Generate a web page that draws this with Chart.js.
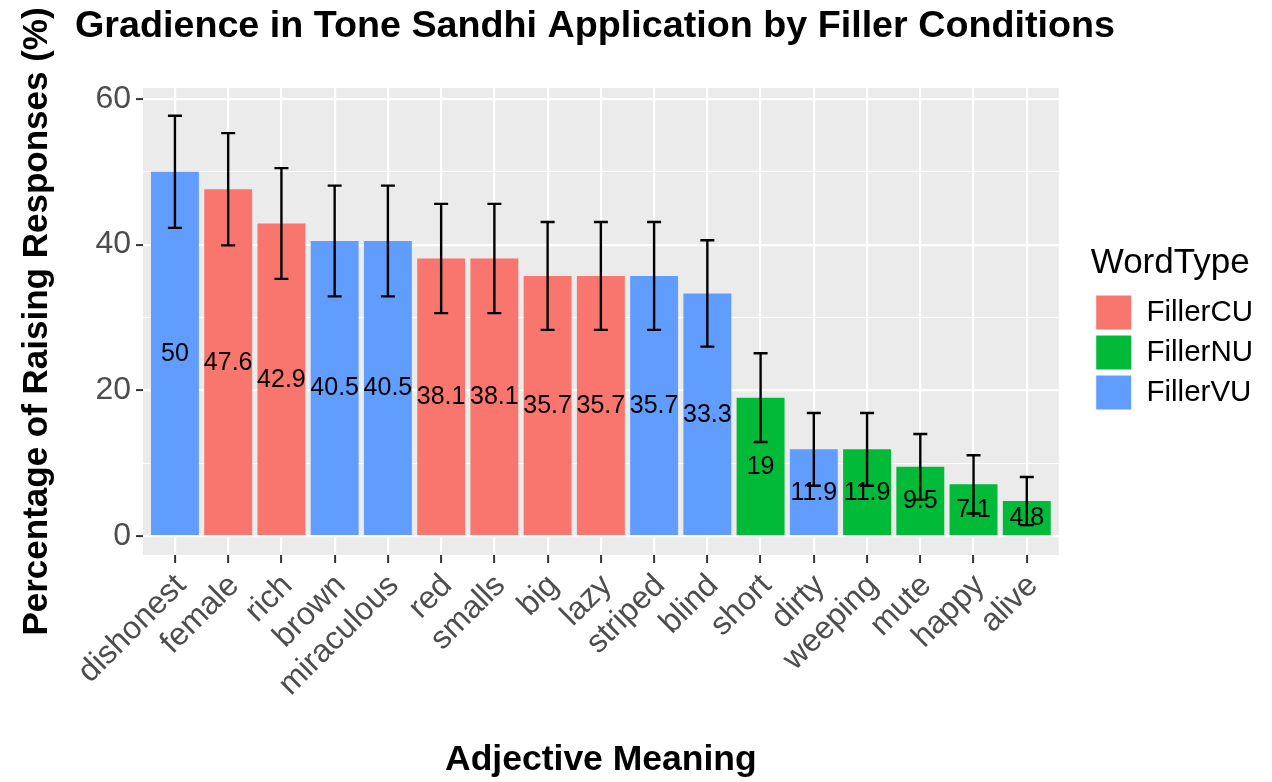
<!DOCTYPE html>
<html>
<head>
<meta charset="utf-8">
<script src="https://cdn.jsdelivr.net/npm/chart.js@4.4.1/dist/chart.umd.min.js"></script>
<style>
  body { margin: 0; background: #fff; }
  #wrap { width: 1272px; height: 782px; }
</style>
</head>
<body>
<div id="wrap"><canvas id="barChart"></canvas></div>
<script>
'use strict';

// data
let words = ['dishonest', 'female', 'rich', 'brown', 'miraculous', 'red', 'smalls', 'big', 'lazy',
             'striped', 'blind', 'short', 'dirty', 'weeping', 'mute', 'happy', 'alive']
let wordType = ['FillerVU', 'FillerCU', 'FillerCU', 'FillerVU', 'FillerVU', 'FillerCU', 'FillerCU', 'FillerCU', 'FillerCU',
                'FillerVU', 'FillerVU', 'FillerNU', 'FillerVU', 'FillerNU', 'FillerNU', 'FillerNU', 'FillerNU']
let pct = [50, 47.6, 42.9, 40.5, 40.5, 38.1, 38.1, 35.7, 35.7, 35.7, 33.3, 19, 11.9, 11.9, 9.5, 7.1, 4.8]
let errLow = [42.3, 39.9, 35.3, 32.9, 32.9, 30.6, 30.6, 28.3, 28.3, 28.3, 26.0, 12.9, 6.9, 6.9, 5.0, 3.1, 1.5]
let errHigh = [57.7, 55.3, 50.5, 48.1, 48.1, 45.6, 45.6, 43.1, 43.1, 43.1, 40.6, 25.1, 16.9, 16.9, 14.0, 11.1, 8.1]
let typeNames = ['FillerCU', 'FillerNU', 'FillerVU']
let typeColors = ['#F8766D', '#00BA38', '#619CFF']
let yTicks = [0, 10, 20, 30, 40, 50, 60]

let barColors = wordType.map(t => typeColors[typeNames.indexOf(t)])
let barPoints = pct.map((v, i) => ({ x: i, y: v }))

const FONT = "'Liberation Sans', Arial, Helvetica, sans-serif"

// grey panel, error bars, value labels and the plot title
let ggExtras = {
    id: 'ggExtras',
    beforeDraw(chart) {
        let a = chart.chartArea
        let ctx = chart.ctx
        ctx.save()
        ctx.fillStyle = '#EBEBEB'
        ctx.fillRect(a.left, a.top, a.right - a.left, a.bottom - a.top)
        ctx.restore()
    },
    afterDatasetsDraw(chart) {
        let ctx = chart.ctx
        let xs = chart.scales.x
        let ys = chart.scales.y
        ctx.save()
        // value labels in the middle of each bar
        ctx.fillStyle = '#000'
        ctx.font = '25px ' + FONT
        ctx.textAlign = 'center'
        ctx.textBaseline = 'middle'
        for (let i = 0; i < pct.length; i++) {
            ctx.fillText(String(pct[i]), xs.getPixelForValue(i), ys.getPixelForValue(pct[i] / 2))
        }
        // error bars
        ctx.strokeStyle = '#000'
        ctx.lineWidth = 2.4
        let cap = 7
        for (let i = 0; i < pct.length; i++) {
            let x = xs.getPixelForValue(i)
            let y1 = ys.getPixelForValue(errLow[i])
            let y2 = ys.getPixelForValue(errHigh[i])
            ctx.beginPath()
            ctx.moveTo(x, y1); ctx.lineTo(x, y2)
            ctx.moveTo(x - cap, y1); ctx.lineTo(x + cap, y1)
            ctx.moveTo(x - cap, y2); ctx.lineTo(x + cap, y2)
            ctx.stroke()
        }
        ctx.restore()
    },
    afterDraw(chart) {
        let ctx = chart.ctx
        ctx.save()
        ctx.fillStyle = '#000'
        ctx.font = 'bold 37.7px ' + FONT
        ctx.textAlign = 'left'
        ctx.textBaseline = 'alphabetic'
        ctx.fillText('Gradience in Tone Sandhi Application by Filler Conditions', 75, 37)
        ctx.restore()
    }
}

let ctx = document.getElementById('barChart').getContext('2d')
let barChart = new Chart(ctx, {
    type: 'bar',
    data: {
        datasets: [{
            data: barPoints,
            backgroundColor: barColors,
            borderWidth: 0,
            barPercentage: 0.9,
            categoryPercentage: 1.0
        }]
    },
    options: {
        responsive: true,
        maintainAspectRatio: false,
        animation: false,
        layout: { padding: { top: 88, left: 0, right: 9, bottom: 0 } },
        plugins: {
            tooltip: { enabled: false },
            title: { display: false },
            legend: {
                display: true,
                position: 'right',
                align: 'start',
                title: {
                    display: true,
                    text: 'WordType',
                    position: 'start',
                    color: '#000',
                    font: { family: FONT, size: 35 },
                    padding: { top: 158, bottom: 2 }
                },
                labels: {
                    generateLabels: function () {
                        return typeNames.map((n, i) => ({
                            text: n,
                            fillStyle: typeColors[i],
                            strokeStyle: '#fff',
                            lineWidth: 1,
                            fontColor: '#000',
                            hidden: false
                        }))
                    },
                    boxWidth: 36,
                    boxHeight: 35,
                    padding: 5,
                    color: '#000',
                    font: { family: FONT, size: 29.5 }
                }
            }
        },
        scales: {
            x: {
                type: 'linear',
                min: -0.6,
                max: 16.6,
                offset: false,
                afterBuildTicks(scale) {
                    scale.ticks = words.map((w, i) => ({ value: i }))
                },
                grid: {
                    offset: false,
                    color: '#FFFFFF',
                    lineWidth: 2.2,
                    tickColor: '#333333',
                    tickLength: 8,
                    tickWidth: 2
                },
                border: { display: false },
                ticks: {
                    autoSkip: false,
                    maxRotation: 45,
                    minRotation: 45,
                    padding: 4,
                    labelOffset: 6,
                    color: '#4D4D4D',
                    font: { family: FONT, size: 32 },
                    callback: v => words[v]
                },
                title: {
                    display: true,
                    text: 'Adjective Meaning',
                    color: '#000',
                    font: { family: FONT, size: 35.5, weight: 'bold' },
                    padding: { top: 0, bottom: 0 }
                },
                afterFit(scale) { scale.height = 227 }
            },
            y: {
                min: -2.6,
                max: 61.5,
                afterBuildTicks(scale) {
                    scale.ticks = yTicks.map(v => ({ value: v }))
                },
                grid: {
                    color: '#FFFFFF',
                    lineWidth: c => (c.tick && c.tick.value % 20 === 0 ? 2.2 : 1.1),
                    tickColor: c => (c.tick && c.tick.value % 20 === 0 ? '#333333' : 'rgba(0,0,0,0)'),
                    tickLength: 7,
                    tickWidth: 2
                },
                border: { display: false },
                ticks: {
                    padding: 5,
                    color: '#4D4D4D',
                    font: { family: FONT, size: 32 },
                    callback: v => (v % 20 === 0 ? String(v) : '')
                },
                title: {
                    display: true,
                    text: 'Percentage of Raising Responses (%)',
                    color: '#000',
                    font: { family: FONT, size: 35, weight: 'bold' },
                    padding: { top: 16, bottom: 0 }
                },
                afterFit(scale) { scale.width = 143 }
            },
            gap: {
                position: 'right',
                display: true,
                grid: { display: false },
                border: { display: false },
                ticks: { display: false },
                afterFit(scale) { scale.width = 32 }
            }
        }
    },
    plugins: [ggExtras]
});
</script>
</body>
</html>
